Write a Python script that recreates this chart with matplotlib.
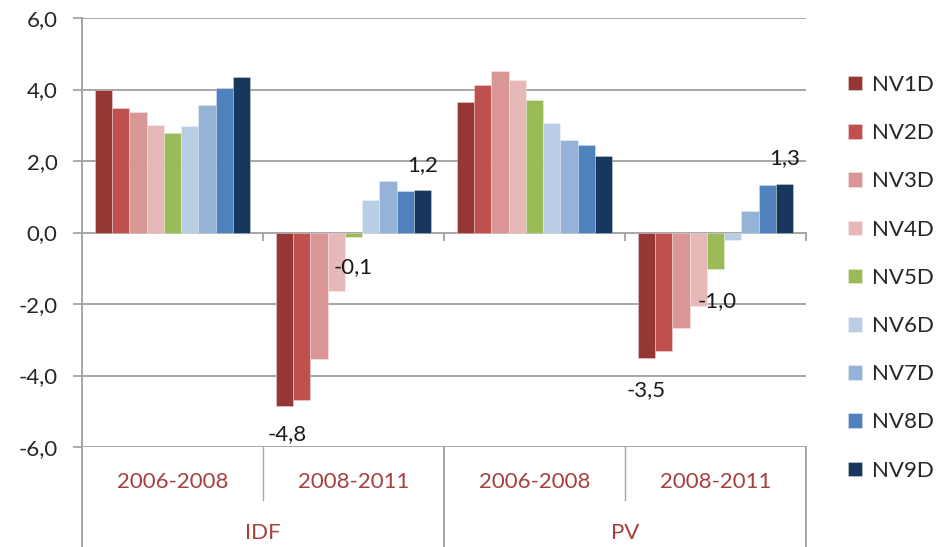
import matplotlib
matplotlib.use("Agg")
import matplotlib.pyplot as plt
import numpy as np

regions = ["IDF", "PV"]
periods = ["2006-2008", "2008-2011"]
series = ["NV1D", "NV2D", "NV3D", "NV4D", "NV5D", "NV6D", "NV7D", "NV8D", "NV9D"]
# values per series for groups: IDF 2006-2008, IDF 2008-2011, PV 2006-2008, PV 2008-2011
NV1D = [4.0, -4.85, 3.65, -3.52]
NV2D = [3.48, -4.68, 4.13, -3.32]
NV3D = [3.37, -3.53, 4.52, -2.68]
NV4D = [3.02, -1.63, 4.27, -2.06]
NV5D = [2.77, -0.12, 3.70, -1.03]
NV6D = [2.98, 0.90, 3.05, -0.20]
NV7D = [3.56, 1.44, 2.59, 0.59]
NV8D = [4.05, 1.15, 2.44, 1.32]
NV9D = [4.35, 1.20, 2.15, 1.35]
values = [NV1D, NV2D, NV3D, NV4D, NV5D, NV6D, NV7D, NV8D, NV9D]
colors = ["#953735", "#C0504D", "#D99694", "#E6B9B8", "#9BBB59",
          "#B9CDE5", "#95B3D7", "#4F81BD", "#17375E"]
yticks = [-6, -4, -2, 0, 2, 4, 6]
# labelled bars: (series index, group index, text, dx in points, dy in points)
labels = [(0, 1, "-4,8", 2, -20), (4, 1, "-0,1", 0, -22), (8, 1, "1,2", 0, 18),
          (0, 3, "-3,5", 0, -23), (4, 3, "-1,0", 1, -23), (8, 3, "1,3", 0, 19)]

FS = 16
plt.rcParams['font.family'] = ['Lato', 'DejaVu Sans']
fig = plt.figure(figsize=(9.42, 5.47), dpi=100)
ax = fig.add_axes([82/942, 1-447/547, (806-82)/942, (447-18)/547])

grid_c = "#A6A6A6"
ngroups = 4
x = np.arange(ngroups)
bw = 0.856 / len(series)
for i, (name, vals, c) in enumerate(zip(series, values, colors)):
    offs = (i - (len(series) - 1) / 2) * bw
    ax.bar(x + offs, vals, width=bw, color=c, label=name,
           edgecolor=(1, 1, 1, 0.35), linewidth=0.6, zorder=3)

for si, gi, txt, dx, dy in labels:
    v = values[si][gi]
    offs = (si - (len(series) - 1) / 2) * bw
    ax.annotate(txt, (gi + offs, v), xytext=(dx, dy), textcoords="offset points",
                ha="center", va="center", fontsize=FS, color="#1a1a1a", zorder=5)

ax.set_xlim(-0.5, 3.5)
ax.set_ylim(-6, 6)
ax.set_yticks(yticks)
ax.set_yticklabels([f"{t:.1f}".replace(".", ",") for t in yticks], fontsize=FS, color="#262626")
ax.tick_params(axis="y", length=6.5, width=1.3, color=grid_c, pad=11)
ax.set_xticks([])
for t in yticks:
    ax.axhline(t, color=grid_c, linewidth=1.4, zorder=1)
for s in ["top", "right", "bottom"]:
    ax.spines[s].set_visible(False)
ax.spines["left"].set_color(grid_c)
ax.spines["left"].set_linewidth(1.4)

# category tick marks on zero line
for b in [0.5, 1.5, 2.5, 3.5]:
    ax.plot([b, b], [0, -0.22], color=grid_c, lw=1.4, zorder=2, clip_on=False)

# multi-level category axis below
tr = ax.get_xaxis_transform()
lab_c = "#A5403E"
for b in [-0.5, 1.5, 3.5]:
    ax.plot([b, b], [0, -0.233], transform=tr, color=grid_c, lw=1.4, clip_on=False)
for b in [0.5, 2.5]:
    ax.plot([b, b], [0, -0.123], transform=tr, color=grid_c, lw=1.0, clip_on=False)
for gi in range(ngroups):
    ax.text(gi, -0.082, periods[gi % 2], transform=tr, ha="center", va="center",
            fontsize=FS, color=lab_c)
for ri, r in enumerate(regions):
    ax.text(0.5 + 2 * ri, -0.2, r, transform=tr, ha="center", va="center",
            fontsize=FS, color=lab_c)

leg = ax.legend(loc="upper left", bbox_to_anchor=(1.0456, 0.888), frameon=False,
                fontsize=FS, handlelength=0.63, handleheight=0.63,
                labelspacing=1.27, handletextpad=0.45, borderaxespad=0)
for txt in leg.get_texts():
    txt.set_color("#262626")

fig.savefig("out.png", dpi=100)
